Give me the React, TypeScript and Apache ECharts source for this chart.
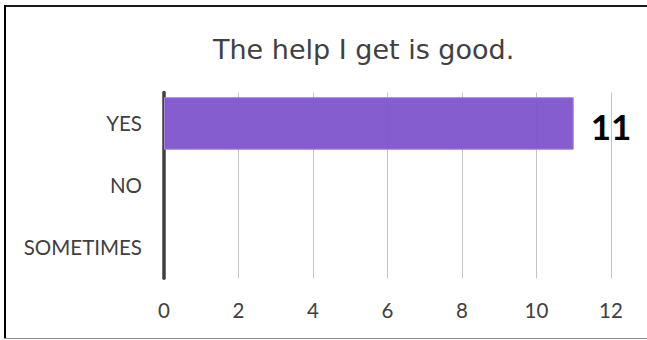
import React, { useEffect, useRef } from "react";
import * as echarts from "echarts";

const categories = ["YES", "NO", "SOMETIMES"];
const values = [11, 0, 0];
const xTicks = [0, 2, 4, 6, 8, 10, 12];
const titleText = "The help I get is good.";

export default function App() {
  const ref = useRef<HTMLDivElement>(null);
  useEffect(() => {
    document.body.style.margin = "0";
    const chart = echarts.init(ref.current!, null, { renderer: "svg" });
    chart.setOption({
      animation: false,
      backgroundColor: "#ffffff",
      title: {
        text: titleText,
        left: 208,
        top: 31,
        textStyle: {
          fontFamily: "DejaVu Sans",
          fontSize: 27,
          fontWeight: "normal",
          color: "#404040",
        },
      },
      grid: { left: 164, right: 36, top: 92.5, bottom: 61.7, containLabel: false },
      xAxis: {
        type: "value",
        min: xTicks[0],
        max: xTicks[xTicks.length - 1],
        interval: 2,
        axisLine: { show: false },
        axisTick: { show: false },
        splitLine: { show: true, lineStyle: { color: "#c4c4c4", width: 1 } },
        axisLabel: {
          margin: 21,
          fontFamily: "Lato",
          fontSize: 20.5,
          color: "#404040",
        },
      },
      yAxis: {
        type: "category",
        data: categories,
        inverse: true,
        axisLine: { show: true, lineStyle: { color: "#404040", width: 3.5 } },
        axisTick: { show: false },
        splitLine: { show: false },
        axisLabel: {
          margin: 22,
          fontFamily: "Lato",
          fontSize: 20.5,
          color: "#404040",
        },
      },
      series: [
        {
          type: "bar",
          data: values.map((v) => (v === 0 ? null : v)),
          barCategoryGap: "15%",
          z: 1,
          itemStyle: {
            color: "rgba(128, 86, 204, 0.96)",
            borderColor: "#a98be3",
            borderWidth: 1,
          },
          label: {
            show: true,
            position: "right",
            distance: 17,
            fontFamily: "Lato",
            fontWeight: "bold",
            fontSize: 35,
            color: "#000000",
            offset: [0, 3],
          },
        },
      ],
      graphic: [
        { type: "line", shape: { x1: 4, y1: 6, x2: 647, y2: 6 }, style: { stroke: "#1a1a1a", lineWidth: 2 } },
        { type: "line", shape: { x1: 5, y1: 5, x2: 5, y2: 339 }, style: { stroke: "#000000", lineWidth: 2 } },
        { type: "line", shape: { x1: 4, y1: 338.5, x2: 647, y2: 338.5 }, style: { stroke: "#8a8a8a", lineWidth: 1 } },
      ],
    });
    return () => chart.dispose();
  }, []);
  return (
    <div
      ref={ref}
      style={{ position: "absolute", left: 0, top: 0, width: 647, height: 340 }}
    />
  );
}
